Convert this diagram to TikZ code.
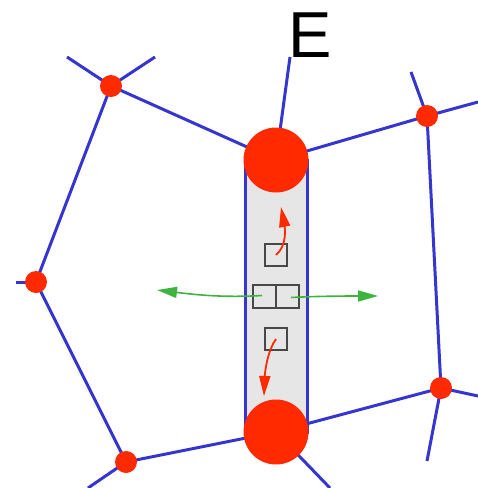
\documentclass[tikz,border=0pt]{standalone}
\usepackage{fontspec}
\setmainfont{Liberation Sans}
\usetikzlibrary{arrows.meta}
\definecolor{nodered}{HTML}{FF2A00}
\definecolor{edgeblue}{HTML}{3535CF}
\definecolor{barfill}{HTML}{E6E6E6}
\definecolor{boxgray}{HTML}{484848}
\definecolor{arrowgreen}{HTML}{3DB43D}
\tikzset{
  smallnode/.style={circle, fill=nodered, inner sep=0pt, minimum size=22pt},
  bignode/.style={circle, fill=nodered, inner sep=0pt, minimum size=65pt},
  edge/.style={draw=edgeblue, line width=3pt},
  sqbox/.style={draw=boxgray, line width=2pt, inner sep=0pt, minimum width=22pt, minimum height=22pt},
  redarrow/.style={draw=nodered, line width=1.8pt, -{Triangle[length=20pt,width=11pt]}},
  greenarrow/.style={draw=arrowgreen, line width=1.6pt, -{Triangle[length=20pt,width=11pt]}}
}
\begin{document}
\begin{tikzpicture}[x=1pt,y=-1pt]
\useasboundingbox (0,0) rectangle (478,488);
% label
\node[inner sep=0pt, anchor=base, font=\fontsize{65}{65}\selectfont] (lab) at (310,57) {E};
% node positions
\coordinate (Tc) at (276,160);
\coordinate (Bc) at (276,432);
% free ends
\coordinate (a1) at (67,57);
\coordinate (a2) at (155,57);
\coordinate (t1) at (290,57);
\coordinate (c1) at (411,72);
\coordinate (c2) at (478,102);
\coordinate (d1) at (16,282);
\coordinate (f1) at (478,396);
\coordinate (f2) at (427,461);
\coordinate (g1) at (88,488);
\coordinate (b1) at (330,488);
% edges
\path[edge] (111,86) coordinate (Ac) -- (a1);
\path[edge] (Ac) -- (a2);
\path[edge] (Ac) -- (Tc);
\path[edge] (Ac) -- (36,282) coordinate (Dc);
\path[edge] (Tc) -- (t1);
\path[edge] (Tc) -- (427,116) coordinate (Cc);
\path[edge] (Cc) -- (c1);
\path[edge] (Cc) -- (c2);
\path[edge] (Cc) -- (441,388) coordinate (Fc);
\path[edge] (Fc) -- (f1);
\path[edge] (Fc) -- (f2);
\path[edge] (Fc) -- (Bc);
\path[edge] (Dc) -- (d1);
\path[edge] (Dc) -- (126,462) coordinate (Gc);
\path[edge] (Gc) -- (g1);
\path[edge] (Gc) -- (Bc);
\path[edge] (Bc) -- (b1);
% bar
\node[draw=edgeblue, fill=barfill, line width=3pt, inner sep=0pt,
      minimum width=62pt, minimum height=272pt] (bar) at (276,296) {};
% nodes
\node[smallnode] (A) at (Ac) {};
\node[smallnode] (C) at (Cc) {};
\node[smallnode] (D) at (Dc) {};
\node[smallnode] (F) at (Fc) {};
\node[smallnode] (G) at (Gc) {};
\node[bignode] (T) at (Tc) {};
\node[bignode] (B) at (Bc) {};
% boxes
\node[sqbox] (s1) at (276,255) {};
\node[sqbox] (s2) at (276,339) {};
\node[sqbox, minimum width=46pt, minimum height=23pt] (mid) at (276,296.5) {};
\draw[draw=boxgray, line width=2pt] (mid.north) -- (mid.south);
\coordinate (tipU) at (281,207);
\coordinate (tipD) at (264,396);
\coordinate (tipL) at (157,290);
\coordinate (tipR) at (378,296);
% arrows
\draw[redarrow] (s1.center) .. controls (287,246) and (285,228) .. (tipU);
\draw[redarrow] (s2.center) .. controls (268,350) and (265,370) .. (tipD);
\draw[greenarrow] ([xshift=-14pt,yshift=1pt]mid.center) .. controls (220,298) and (190,294) .. (tipL);
\draw[greenarrow] ([xshift=15pt,yshift=-1pt]mid.center) .. controls (320,296) and (350,296) .. (tipR);
\end{tikzpicture}
\end{document}
